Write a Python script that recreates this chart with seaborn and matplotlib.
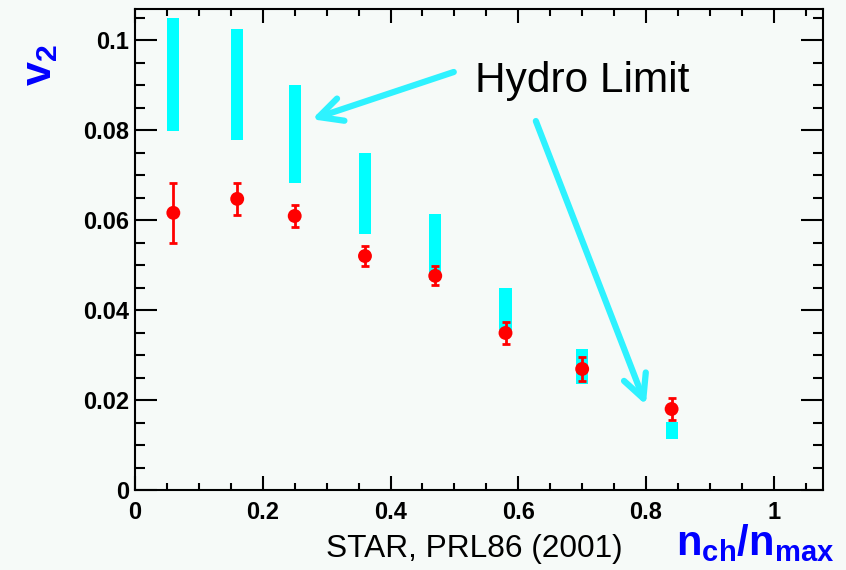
import matplotlib
matplotlib.use("Agg")
import matplotlib.pyplot as plt
import seaborn as sns
import pandas as pd
from matplotlib.ticker import MultipleLocator

# ---- data ----
nch = [0.06, 0.16, 0.25, 0.36, 0.47, 0.58, 0.70, 0.84]
v2 = [0.0616, 0.0647, 0.0609, 0.0520, 0.0476, 0.0349, 0.0269, 0.0180]
v2_err = [0.0066, 0.0035, 0.0025, 0.0023, 0.0021, 0.0025, 0.0027, 0.0025]
hydro_low = [0.0798, 0.0778, 0.0682, 0.0569, 0.0466, 0.0345, 0.0236, 0.0113]
hydro_high = [0.1049, 0.1024, 0.0900, 0.0749, 0.0613, 0.0449, 0.0313, 0.0151]
xticks = [0, 0.2, 0.4, 0.6, 0.8, 1.0]
xtick_labels = ["0", "0.2", "0.4", "0.6", "0.8", "1"]
yticks = [0, 0.02, 0.04, 0.06, 0.08, 0.1]
ytick_labels = ["0", "0.02", "0.04", "0.06", "0.08", "0.1"]

df = pd.DataFrame({"nch": nch, "v2": v2, "err": v2_err,
                   "lo": hydro_low, "hi": hydro_high})

BG = "#f6faf8"
sns.set_style("ticks")
plt.rcParams["font.family"] = ["Liberation Sans", "DejaVu Sans"]
plt.rcParams["mathtext.fontset"] = "custom"
plt.rcParams["mathtext.rm"] = "Liberation Sans"
plt.rcParams["mathtext.bf"] = "Liberation Sans:bold"

fig = plt.figure(figsize=(8.46, 5.70), dpi=100, facecolor=BG)
ax = fig.add_axes([135/846, 1-490/570, (823-135)/846, (490-9)/570])
ax.set_facecolor(BG)

# hydro limit bands
ax.bar(df["nch"], df["hi"] - df["lo"], bottom=df["lo"], width=0.019,
       color="#00ffff", edgecolor="none", zorder=2)

# data points with error bars
ax.errorbar(df["nch"], df["v2"], yerr=df["err"], fmt="none",
            ecolor="#ff0000", elinewidth=2, capsize=3, capthick=2, zorder=3)
sns.scatterplot(data=df, x="nch", y="v2", ax=ax, color="#ff0000", s=100,
                edgecolor="none", zorder=4, legend=False)

ax.set_xlim(0, 1.077)
ax.set_ylim(0, 0.1069)
ax.set_xlabel("")
ax.set_ylabel("")
ax.set_xticks(xticks)
ax.set_xticklabels(xtick_labels)
ax.set_yticks(yticks)
ax.set_yticklabels(ytick_labels)
ax.xaxis.set_minor_locator(MultipleLocator(0.05))
ax.yaxis.set_minor_locator(MultipleLocator(0.005))
for lab in ax.get_xticklabels() + ax.get_yticklabels():
    lab.set_fontweight("bold")
    lab.set_fontsize(17)
    lab.set_color("black")
ax.tick_params(axis="x", which="major", direction="in", length=10, width=1.5,
               top=True, pad=8, color="black")
ax.tick_params(axis="x", which="minor", direction="in", length=5, width=1.5,
               top=True, color="black")
ax.tick_params(axis="y", which="major", direction="in", length=16, width=1.5,
               right=True, pad=4, color="black")
ax.tick_params(axis="y", which="minor", direction="in", length=7.5, width=1.5,
               right=True, color="black")
for sp in ax.spines.values():
    sp.set_visible(True)
    sp.set_linewidth(1.5)
    sp.set_color("black")

# annotations
arrow_col = "#2ef2ff"
ax.annotate("", xy=(0.277, 0.0824), xytext=(0.499, 0.0929),
            arrowprops=dict(arrowstyle="->", color=arrow_col, lw=4.5,
                            mutation_scale=42, shrinkA=0, shrinkB=0))
ax.annotate("", xy=(0.7997, 0.0189), xytext=(0.6275, 0.0820),
            arrowprops=dict(arrowstyle="->", color=arrow_col, lw=4.5,
                            mutation_scale=42, shrinkA=0, shrinkB=0))
ax.text(0.532, 0.0884, "Hydro Limit", fontsize=30.5, color="black",
        ha="left", va="baseline")

fig.text(474/846, 1-557/570, "STAR, PRL86 (2001)", fontsize=22.8, color="black",
         ha="center", va="baseline")
fig.text(834/846, 1-555/570, r"$\mathbf{n_{ch}/n_{max}}$", fontsize=30,
         color="#0000ff", ha="right", va="baseline")
fig.text(40/846, 1-65/570, r"$\mathbf{v_2}$", fontsize=31, color="#0000ff",
         ha="center", va="center", rotation=90)

fig.savefig("out.png", dpi=100, facecolor=BG)
